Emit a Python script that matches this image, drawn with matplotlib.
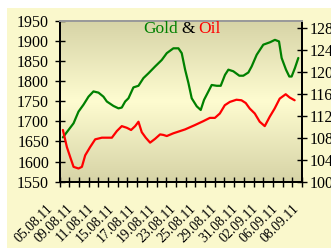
import numpy as np
import matplotlib
matplotlib.use("Agg")
import matplotlib.pyplot as plt
from matplotlib.patches import Rectangle
from matplotlib.colors import LinearSegmentedColormap
import matplotlib.transforms as mtransforms

plt.rcParams['font.family'] = ['Liberation Serif', 'DejaVu Serif']

# ---- data (trading-day index, value) ----
date_labels = ["05.08.11", "09.08.11", "11.08.11", "15.08.11", "17.08.11", "19.08.11",
               "23.08.11", "25.08.11", "29.08.11", "31.08.11", "02.09.11", "06.09.11", "08.09.11"]

gold_t = [0.35, 1.45, 1.96, 2.47, 2.99, 3.50, 4.02, 4.53, 4.88, 5.56, 6.08, 6.42, 6.77, 7.11,
          7.62, 8.14, 8.65, 9.17, 9.86, 10.54, 11.06, 11.74, 12.26, 12.60, 12.95, 13.29, 13.63,
          14.15, 14.56, 14.90, 15.35, 15.69, 16.21, 16.62, 17.06, 17.41, 17.92, 18.54, 18.95,
          19.47, 19.81, 20.33, 21.01, 21.70, 22.21, 22.63, 22.90, 23.35, 23.69, 23.93, 24.27, 24.62]
gold_v = [1660, 1695, 1724, 1741, 1761, 1774, 1771, 1761, 1749, 1738, 1732, 1734, 1749, 1757,
          1784, 1788, 1807, 1819, 1836, 1852, 1869, 1881, 1881, 1869, 1828, 1795, 1757,
          1737, 1728, 1753, 1774, 1790, 1788, 1788, 1815, 1828, 1824, 1813, 1813,
          1821, 1836, 1865, 1890, 1896, 1902, 1898, 1857, 1828, 1811, 1811, 1832, 1857]

oil_t = [0.35, 0.76, 1.10, 1.45, 1.96, 2.31, 2.65, 3.16, 3.68, 4.37, 5.40, 5.91, 6.42, 6.94,
         7.38, 7.80, 8.14, 8.48, 8.89, 9.34, 9.86, 10.37, 10.71, 11.06, 11.74, 12.94, 13.97,
         14.82, 15.50, 16.02, 16.53, 17.04, 17.56, 18.24, 18.76, 19.20, 19.61, 20.13, 20.64,
         21.16, 21.67, 22.18, 22.70, 23.32, 23.73, 24.24]
oil_v = [109.4, 106.3, 104.5, 102.7, 102.4, 102.7, 104.8, 106.3, 107.7, 108.0, 108.0, 109.2,
         110.1, 109.8, 109.4, 110.1, 110.9, 109.0, 108.0, 107.1, 107.8, 108.6, 108.5, 108.3,
         108.8, 109.5, 110.3, 111.0, 111.6, 111.6, 112.4, 113.9, 114.5, 114.9, 114.8, 114.3,
         113.3, 112.4, 110.9, 110.1, 111.8, 113.3, 115.1, 115.9, 115.3, 114.8]

gold_ticks = list(range(1550, 1951, 50))
oil_ticks = list(range(100, 129, 4))

# ---- figure ----
W, H = 331, 248
fig = plt.figure(figsize=(W / 100, H / 100), dpi=100)
fig.patch.set_facecolor('white')
fig.patches.append(Rectangle((7 / W, 0), 1, (H - 8) / H, transform=fig.transFigure,
                             facecolor='#FAF8CC', edgecolor='none', zorder=-10))

left, right, top, bottom = 59.5, 302, 20.5, 181.7
ax = fig.add_axes([left / W, 1 - bottom / H, (right - left) / W, (bottom - top) / H])
ax.set_facecolor('none')

# gradient background in plot area
cmap = LinearSegmentedColormap.from_list('g', [(0, '#D6D3A6'), (0.5, '#FEFCD0'), (1, '#D6D3A6')])
grad = np.linspace(0, 1, 256).reshape(-1, 1)
ax.imshow(grad, cmap=cmap, aspect='auto', extent=[0, 1, 0, 1], transform=ax.transAxes,
          zorder=0, interpolation='bicubic')

ax.plot(gold_t, gold_v, color='#008000', lw=1.6, zorder=3, solid_capstyle='round')
ax.set_xlim(0, 25)
ax.set_ylim(1550, 1950)
ax.set_yticks(gold_ticks)
ax.set_xticks(np.arange(0, 26))
ax.set_xticklabels([])

ax2 = ax.twinx()
ax2.plot(oil_t, oil_v, color='#FF0000', lw=1.6, zorder=3, solid_capstyle='round')
ax2.set_ylim(100, 129.3)
ax2.set_yticks(oil_ticks)

for a in (ax, ax2):
    for s in a.spines.values():
        s.set_linewidth(1.4)
        s.set_color('black')
    a.spines['top'].set_color('#9A9A9A')
    a.tick_params(direction='inout', length=7, width=1.0, colors='black', labelsize=11.5)
ax.tick_params(axis='y', pad=4)
ax.tick_params(axis='x', length=7)
ax2.tick_params(axis='y', pad=2)

# rotated date labels
label_x = np.linspace(-1.4, 24.0, len(date_labels))
trans = mtransforms.blended_transform_factory(ax.transData, ax.transAxes)
for x, lab in zip(label_x, date_labels):
    ax.text(x, -20 / (bottom - top), lab, rotation=45, rotation_mode='anchor',
            ha='right', va='top', fontsize=10, transform=trans, clip_on=False)

# title
ty = 1 - 33.3 / H
fig.text(178 / W, ty, "Gold", color='#008000', ha='right', va='baseline', fontsize=12.5)
fig.text(188 / W, ty, "&", color='black', ha='center', va='baseline', fontsize=12.5)
fig.text(198 / W, ty, "Oil", color='#FF0000', ha='left', va='baseline', fontsize=12.5)

fig.savefig('out.png', dpi=100)
